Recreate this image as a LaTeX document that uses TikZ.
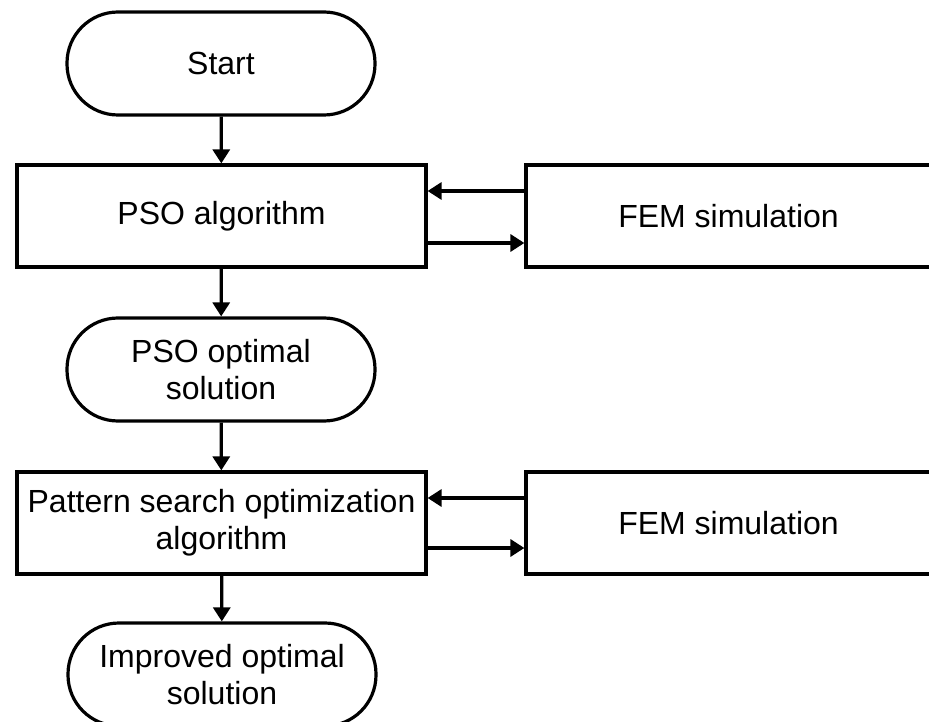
\documentclass[tikz,border=0pt]{standalone}
\usepackage{fontspec}
\setmainfont{Liberation Sans}
\usetikzlibrary{arrows.meta,calc,positioning}

\tikzset{
	flow/.style={line width=3.2pt,-{Triangle[length=14pt,width=17pt]}},
	stadium/.style={draw,line width=3.2pt,rectangle,rounded corners=51pt,minimum width=308pt,minimum height=103pt,align=center,inner sep=0pt},
	block/.style={draw,line width=3.2pt,rectangle,minimum width=409pt,minimum height=102pt,align=center,inner sep=0pt},
	femblock/.style={draw,line width=3.2pt,rectangle,minimum width=405pt,minimum height=102pt,align=center,inner sep=0pt}
}

\begin{document}
\begin{tikzpicture}[x=1pt,y=-1pt,font=\fontsize{32}{37}\selectfont]
			\useasboundingbox (0,0) rectangle (929,722);
			\clip (0,0) rectangle (929,722);
			% left column
			\node[stadium] (start) at (221,63.5) {Start};
			\node[block] (pso) at (221.5,216) {PSO algorithm};
			\node[stadium] (psoopt) at (221,369.5) {PSO optimal\\solution};
			\node[block] (pattern) at (221.5,523) {Pattern search optimization\\algorithm};
			\node[stadium] (improved) at (222,674.5) {Improved optimal\\solution};
			% right column
			\node[femblock] (fem1) at (728.5,216) {FEM simulation};
			\node[femblock] (fem2) at (728.5,523) {FEM simulation};
			% connectors
			\draw[flow] (start) to (pso);
			\draw[flow] (pso) to (psoopt);
			\draw[flow] (psoopt) to (pattern);
			\draw[flow] (pattern) to (improved);
			\draw[flow] ([yshift=25pt]fem1.west) to ([yshift=25pt]pso.east);
			\draw[flow] ([yshift=-27pt]pso.east) to ([yshift=-27pt]fem1.west);
			\draw[flow] ([yshift=25pt]fem2.west) to ([yshift=25pt]pattern.east);
			\draw[flow] ([yshift=-25pt]pattern.east) to ([yshift=-25pt]fem2.west);
\end{tikzpicture}
\end{document}
